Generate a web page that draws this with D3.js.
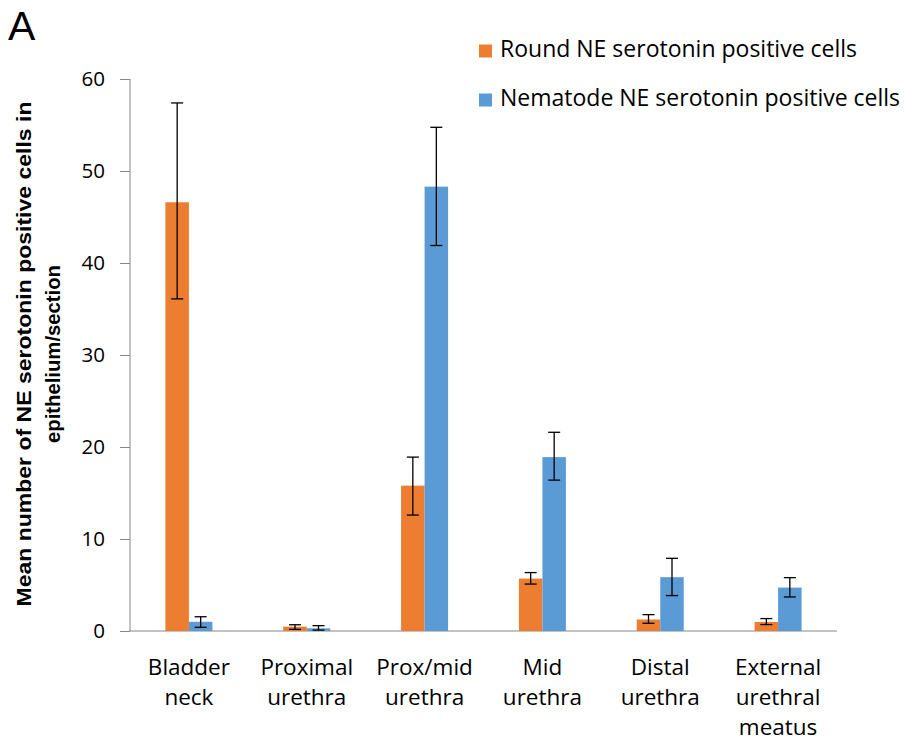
<!DOCTYPE html>
<html><head><meta charset="utf-8">
<script src="https://cdn.jsdelivr.net/npm/d3@7"></script>
<style>body{margin:0;background:#fff;} text{font-family:"Open Sans",sans-serif;}</style>
</head><body>
<svg id="c" width="907" height="744"></svg>
<script>
const categories = [["Bladder","neck"],["Proximal","urethra"],["Prox/mid","urethra"],["Mid","urethra"],["Distal","urethra"],["External","urethral","meatus"]];
const seriesNames = ["Round NE serotonin positive cells","Nematode NE serotonin positive cells"];
const roundVals = [46.6, 0.47, 15.8, 5.7, 1.25, 0.98];
const roundLow  = [36.1, 0.18, 12.6, 5.1, 0.84, 0.7];
const roundHigh = [57.4, 0.68, 18.9, 6.35, 1.78, 1.35];
const nemaVals  = [1.0, 0.29, 48.3, 18.9, 5.85, 4.72];
const nemaLow   = [0.4, 0.1, 41.9, 16.4, 3.85, 3.7];
const nemaHigh  = [1.55, 0.58, 54.75, 21.6, 7.9, 5.8];
const yTicks = [0,10,20,30,40,50,60];
const colors = ["#ED7D31","#5B9BD5"];

const svg = d3.select("#c");
const x0 = d3.scaleBand().domain(d3.range(categories.length)).range([130,837]);
const y = d3.scaleLinear().domain([0,60]).range([631,79]);
const barW = 23.5;

// axes
const ya = svg.append("g").attr("transform","translate(130,0)")
  .call(d3.axisLeft(y).tickValues(yTicks).tickSize(10).tickPadding(15));
ya.selectAll("path,line").attr("stroke","#868686");
ya.select(".domain").attr("d","M0,79V631");
ya.selectAll("text").attr("font-size",20.5).attr("fill","#000").attr("font-family","Open Sans");

const xa = svg.append("g").attr("transform","translate(0,631)")
  .call(d3.axisBottom(x0).tickSize(0).tickFormat(""));
xa.select(".domain").attr("stroke","#868686").attr("d","M130,0H837");

// category labels
categories.forEach((lines,i)=>{
  const cx = x0(i)+x0.bandwidth()/2;
  const t = svg.append("text").attr("text-anchor","middle").attr("font-size",22.5).attr("fill","#000");
  lines.forEach((l,j)=>t.append("tspan").attr("x",cx).attr("y",675+j*30).text(l));
});

const series = [
  {vals:roundVals, lo:roundLow, hi:roundHigh, off:-barW},
  {vals:nemaVals, lo:nemaLow, hi:nemaHigh, off:0}
];
series.forEach((s,k)=>{
  const g = svg.append("g");
  g.selectAll("rect").data(s.vals).join("rect")
    .attr("x",(d,i)=>x0(i)+x0.bandwidth()/2+s.off)
    .attr("width",barW)
    .attr("y",d=>y(d)).attr("height",d=>y(0)-y(d))
    .attr("fill",colors[k]);
  s.vals.forEach((d,i)=>{
    const cx = x0(i)+x0.bandwidth()/2+s.off+barW/2;
    const e = svg.append("g").attr("stroke","#000").attr("stroke-width",1.3);
    e.append("line").attr("x1",cx).attr("x2",cx).attr("y1",y(s.hi[i])).attr("y2",y(s.lo[i]));
    e.append("line").attr("x1",cx-6).attr("x2",cx+6).attr("y1",y(s.hi[i])).attr("y2",y(s.hi[i]));
    e.append("line").attr("x1",cx-6).attr("x2",cx+6).attr("y1",y(s.lo[i])).attr("y2",y(s.lo[i]));
  });
});

// legend
seriesNames.forEach((n,k)=>{
  const base = 57 + k*49;
  svg.append("rect").attr("x",479).attr("y",base-12.5).attr("width",13).attr("height",13).attr("fill",colors[k]);
  svg.append("text").attr("x",500).attr("y",base).attr("font-size",23).attr("fill","#000").text(n);
});

// y title
const yt = svg.append("text").attr("transform","translate(0,354) rotate(-90)")
  .attr("text-anchor","middle").attr("font-size",20.5).attr("font-weight","bold").attr("fill","#000")
  .style("font-family","'Liberation Sans',Arial,sans-serif");
yt.append("tspan").attr("x",0).attr("y",31).attr("textLength",505).attr("lengthAdjust","spacingAndGlyphs")
  .text("Mean number of NE serotonin positive cells in");
yt.append("tspan").attr("x",0).attr("y",60).attr("textLength",178).attr("lengthAdjust","spacingAndGlyphs")
  .text("epithelium/section");

svg.append("text").attr("x",8).attr("y",40).attr("font-size",41).attr("fill","#000")
  .style("font-family","'Liberation Sans',Arial,sans-serif").text("A");
</script>
</body></html>
